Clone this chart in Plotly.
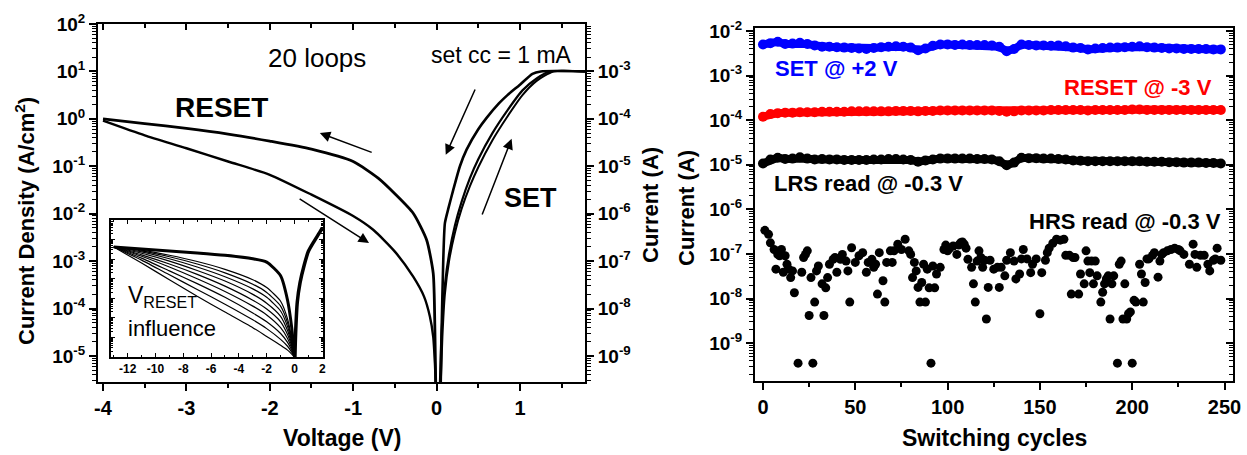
import numpy as np
import plotly.graph_objects as go

W, H = 1247, 455
FONT = "Liberation Sans, Arial, sans-serif"

# ---------------- Left panel: J-V loops (values are log10 of J in A/cm^2) ----------------
reset_lrs_V = [-4, -3.5, -3, -2.5, -2, -1.5, -1, -0.7, -0.5, -0.28, -0.12, -0.04, -0.02, -0.01]
reset_lrs_log10J = [0, -0.1, -0.2, -0.32, -0.47, -0.64, -0.9, -1.25, -1.58, -1.99, -2.55, -3.26, -4.45, -5.6]

reset_hrs_V = [-4, -3.5, -3, -2.5, -2, -1.5, -1, -0.76, -0.5, -0.28, -0.15, -0.08, -0.04, -0.02, -0.01]
reset_hrs_log10J = [-0.04, -0.35, -0.62, -0.9, -1.18, -1.6, -2.05, -2.34, -2.8, -3.33, -3.75, -4.17, -4.6, -5.15, -5.6]

set_hrs_V = [0.04, 0.06, 0.1, 0.15, 0.22, 0.3, 0.4, 0.5, 0.67, 0.85, 1.03, 1.2, 1.36, 1.78]
set_hrs_log10J = [-5.6, -4.5, -3.5, -2.85, -2.25, -1.75, -1.25, -0.85, -0.3, 0.18, 0.6, 0.85, 1.0, 1.0]

set_hrs2_V = [0.05, 0.07, 0.1, 0.15, 0.22, 0.3, 0.4, 0.5, 0.67, 0.85, 1.03, 1.2, 1.4, 1.78]
set_hrs2_log10J = [-5.6, -4.6, -3.7, -3.0, -2.4, -1.9, -1.42, -1.02, -0.45, 0.05, 0.5, 0.8, 1.0, 1.0]

set_lrs_V = [1.78, 1.25, 1.15, 1.0, 0.85, 0.75, 0.6, 0.5, 0.36, 0.28, 0.2, 0.14, 0.1, 0.08, 0.06, 0.05]
set_lrs_log10J = [1.0, 1.0, 0.95, 0.72, 0.5, 0.33, 0.02, -0.22, -0.65, -1.0, -1.5, -1.9, -2.2, -3.0, -4.5, -5.6]

# ---------------- Inset: V_RESET influence (log10 of current, arbitrary units) ----------------
inset_V = [-13, -11, -9, -7, -5, -3, -2, -1, -0.5, -0.2, 0]
inset_thick_log10 = [-0.38, -0.48, -0.58, -0.68, -0.80, -0.98, -1.15, -1.85, -3.1, -4.5, -6.0]
inset_thin_log10 = [
    [-0.38, -1.20, -2.05, -2.90, -3.70, -4.50, -4.95, -5.40, -5.65, -5.85, -6.0],
    [-0.38, -1.05, -1.80, -2.55, -3.30, -4.10, -4.55, -5.10, -5.45, -5.75, -6.0],
    [-0.38, -0.95, -1.60, -2.25, -2.95, -3.75, -4.20, -4.80, -5.25, -5.65, -6.0],
    [-0.38, -0.85, -1.40, -2.00, -2.65, -3.40, -3.85, -4.50, -5.05, -5.55, -6.0],
    [-0.38, -0.78, -1.25, -1.78, -2.38, -3.10, -3.55, -4.20, -4.85, -5.45, -6.0],
    [-0.38, -0.70, -1.10, -1.58, -2.12, -2.80, -3.25, -3.92, -4.65, -5.35, -6.0],
    [-0.38, -0.63, -0.98, -1.40, -1.90, -2.52, -2.95, -3.65, -4.45, -5.25, -6.0],
    [-0.38, -0.58, -0.88, -1.25, -1.70, -2.28, -2.70, -3.40, -4.25, -5.15, -6.0],
    [-0.38, -0.54, -0.80, -1.12, -1.52, -2.05, -2.45, -3.15, -4.05, -5.05, -6.0],
]
inset_set_V = [0.03, 0.08, 0.2, 0.4, 0.7, 1.0, 1.4, 1.8, 2.0]
inset_set_log10 = [-6.0, -4.8, -3.2, -2.2, -1.3, -0.6, -0.1, 0.35, 0.6]

# ---------------- Right panel: endurance (log10 of current in A) ----------------
band_cycles = list(range(0, 249, 4))
set_log10I = [-2.30, -2.27, -2.24, -2.29, -2.28, -2.26, -2.29, -2.32, -2.35, -2.35,
              -2.36, -2.37, -2.38, -2.39, -2.40, -2.38, -2.36, -2.35, -2.34, -2.35,
              -2.37, -2.43, -2.39, -2.33, -2.30, -2.30, -2.31, -2.30, -2.31, -2.31,
              -2.31, -2.32, -2.35, -2.45, -2.40, -2.30, -2.31, -2.32, -2.32, -2.33,
              -2.32, -2.34, -2.37, -2.38, -2.41, -2.39, -2.38, -2.37, -2.37, -2.36,
              -2.35, -2.34, -2.36, -2.37, -2.38, -2.39, -2.39, -2.40, -2.40, -2.40,
              -2.40, -2.41, -2.41]
reset_log10I = [-3.92, -3.86, -3.84, -3.83, -3.83, -3.82, -3.82, -3.82, -3.81, -3.81,
                -3.81, -3.81, -3.80, -3.80, -3.80, -3.80, -3.80, -3.80, -3.79, -3.79,
                -3.79, -3.80, -3.79, -3.79, -3.78, -3.78, -3.78, -3.78, -3.78, -3.78,
                -3.78, -3.78, -3.79, -3.81, -3.80, -3.78, -3.78, -3.78, -3.78, -3.77,
                -3.77, -3.77, -3.77, -3.77, -3.78, -3.77, -3.77, -3.77, -3.77, -3.77,
                -3.76, -3.76, -3.77, -3.77, -3.77, -3.77, -3.77, -3.77, -3.77, -3.77,
                -3.77, -3.77, -3.77]
lrs_log10I = [-4.97, -4.88, -4.84, -4.87, -4.86, -4.83, -4.86, -4.88, -4.87, -4.88,
              -4.88, -4.89, -4.89, -4.89, -4.89, -4.88, -4.88, -4.87, -4.87, -4.88,
              -4.89, -4.93, -4.90, -4.88, -4.86, -4.86, -4.86, -4.86, -4.86, -4.87,
              -4.87, -4.88, -4.92, -5.01, -4.95, -4.84, -4.85, -4.85, -4.86, -4.86,
              -4.87, -4.88, -4.90, -4.91, -4.92, -4.92, -4.92, -4.92, -4.92, -4.92,
              -4.92, -4.92, -4.93, -4.93, -4.93, -4.94, -4.94, -4.95, -4.95, -4.95,
              -4.96, -4.96, -4.97]

hrs_cycles = [1, 3, 4, 6, 7, 8, 9, 10, 11, 12, 13, 14, 15, 16, 17, 19, 21, 22, 23, 24,
              25, 26, 27, 28, 29, 30, 32, 33, 34, 35, 36, 38, 39, 40, 42, 43, 45, 46, 47, 48,
              50, 52, 54, 56, 57, 59, 60, 61, 62, 63, 65, 66, 67, 69, 70, 71, 73, 75, 77, 79,
              80, 81, 82, 83, 84, 85, 86, 87, 88, 89, 90, 91, 92, 93, 94,
              96, 98, 99, 100, 101, 103, 105, 106, 107, 108, 109, 110, 111, 113, 114, 115, 116, 117, 118, 119,
              120, 121, 122, 123, 125, 127, 128, 129, 131, 132, 134, 136, 137, 139, 140, 141, 143, 145, 146, 148,
              150, 151, 153, 154, 155, 157, 159, 161, 163, 164, 166, 167, 168, 169, 171, 172, 174, 175, 176, 177,
              178, 179, 180, 181, 183, 184, 185, 186, 187, 188, 189, 190, 192, 193, 194, 195, 196, 197, 198, 199,
              200, 201, 202, 204, 205, 206, 207, 208, 209, 211, 212, 214, 215, 216, 217, 219, 221, 223, 225, 226,
              228, 231, 233, 234, 235, 237, 239, 241, 242, 244, 245, 246, 248]
hrs_log10I = [-6.47, -6.56, -6.75, -6.90, -7.34, -7.01, -7.04, -6.90, -7.41, -7.04, -7.23, -7.34, -7.53, -7.38, -7.87, -9.45, -7.41, -7.08, -7.01, -6.93,
              -8.38, -7.53, -9.45, -8.08, -7.38, -7.27, -7.67, -8.38, -7.76, -7.53, -7.23, -7.12, -7.08, -7.41, -7.12, -7.01, -7.16, -7.38, -8.08, -6.86,
              -7.19, -7.04, -6.97, -7.41, -7.19, -7.12, -7.30, -7.23, -7.90, -6.97, -7.60, -8.08, -7.19, -6.93, -7.19, -6.93, -6.78, -6.90, -6.67, -6.93,
              -7.01, -7.53, -7.19, -7.38, -7.75, -8.08, -7.64, -7.23, -8.08, -7.34, -7.76, -9.45, -7.27, -7.76, -7.45,
              -7.30, -6.90, -6.80, -6.93, -6.88, -6.82, -7.01, -6.80, -6.75, -6.73, -6.78, -6.87, -7.12, -7.30, -7.67, -8.08, -7.16, -6.93, -7.08, -7.30,
              -7.14, -8.46, -7.75, -7.14, -7.34, -7.30, -7.75, -7.30, -7.49, -7.14, -6.97, -7.16, -7.56, -7.45, -7.11, -6.90, -7.11, -7.42, -7.23, -7.11,
              -8.34, -7.42, -7.14, -6.97, -6.87, -6.76, -6.67, -6.69, -6.67, -7.03, -7.03, -7.90, -7.08, -7.08, -7.90, -7.45, -7.67, -6.93, -7.16, -7.42,
              -7.16, -7.67, -7.16, -7.49, -8.08, -7.86, -7.67, -7.56, -7.49, -8.46, -7.67, -7.49, -9.45, -7.23, -7.16, -8.46, -7.67, -8.46, -8.34, -8.30,
              -9.45, -8.04, -8.08, -7.23, -7.45, -8.08, -7.64, -7.11, -7.11, -7.03, -6.97, -7.52, -7.16, -7.01, -6.97, -6.93, -6.90, -6.87, -6.90, -6.93,
              -7.01, -7.23, -6.78, -7.01, -7.30, -7.03, -7.03, -7.23, -7.38, -7.14, -7.11, -6.87, -7.14]

# Tick labels
left_y_exp = [-5, -4, -3, -2, -1, 0, 1, 2]
left_y2_exp = [-9, -8, -7, -6, -5, -4, -3]
right_y_exp = [-9, -8, -7, -6, -5, -4, -3, -2]
left_x_ticks = [-4, -3, -2, -1, 0, 1]
inset_x_ticks = [-12, -10, -8, -6, -4, -2, 0, 2]
right_x_ticks = [0, 50, 100, 150, 200, 250]


def pw(a):
    return np.power(10.0, np.asarray(a, dtype=float))


def px(x):
    return x / W


def py(y):
    return 1 - y / H


def sup_labels(exps):
    return ["10<sup>%d</sup>" % e for e in exps]


def minor_vals(e0, e1):
    return [m * 10.0 ** e for e in range(e0, e1) for m in range(2, 10)]


fig = go.Figure()

# Left main curves
for V, L, w in [(reset_lrs_V, reset_lrs_log10J, 2.8), (reset_hrs_V, reset_hrs_log10J, 2.4),
                (set_hrs_V, set_hrs_log10J, 2.2), (set_hrs2_V, set_hrs2_log10J, 2.0),
                (set_lrs_V, set_lrs_log10J, 2.6)]:
    fig.add_trace(go.Scatter(x=V, y=pw(L), mode="lines", line=dict(color="black", width=w, shape="spline", smoothing=0.6),
                             xaxis="x", yaxis="y", showlegend=False, hoverinfo="skip"))

# dummy traces for overlay axes
fig.add_trace(go.Scatter(x=[None], y=[None], xaxis="x2", yaxis="y", showlegend=False))
fig.add_trace(go.Scatter(x=[None], y=[None], xaxis="x", yaxis="y2", showlegend=False))

# Inset
for L in inset_thin_log10:
    fig.add_trace(go.Scatter(x=inset_V, y=pw(L), mode="lines", line=dict(color="black", width=1.2, shape="spline", smoothing=0.6),
                             xaxis="x3", yaxis="y3", showlegend=False, hoverinfo="skip"))
fig.add_trace(go.Scatter(x=inset_V, y=pw(inset_thick_log10), mode="lines", line=dict(color="black", width=3, shape="spline", smoothing=0.6),
                         xaxis="x3", yaxis="y3", showlegend=False, hoverinfo="skip"))
fig.add_trace(go.Scatter(x=inset_set_V, y=pw(inset_set_log10), mode="lines", line=dict(color="black", width=3.5, shape="spline", smoothing=0.6),
                         xaxis="x3", yaxis="y3", showlegend=False, hoverinfo="skip"))

# Right panel
for L, c in [(set_log10I, "#0000ff"), (reset_log10I, "#ff0000"), (lrs_log10I, "black")]:
    fig.add_trace(go.Scatter(x=band_cycles, y=pw(L), mode="lines+markers", line=dict(color=c, width=8),
                             marker=dict(color=c, size=10), xaxis="x4", yaxis="y4", showlegend=False, hoverinfo="skip"))
fig.add_trace(go.Scatter(x=hrs_cycles, y=pw(hrs_log10I), mode="markers", marker=dict(color="black", size=9),
                         xaxis="x4", yaxis="y4", showlegend=False, hoverinfo="skip"))
fig.add_trace(go.Scatter(x=[None], y=[None], xaxis="x4", yaxis="y5", showlegend=False))

tickfont = dict(family=FONT, size=19, color="black", weight="bold")
xtickfont = dict(family=FONT, size=20, color="black", weight="bold")
ax_common = dict(showgrid=False, zeroline=False, showline=True, linecolor="black", linewidth=2,
                 tickcolor="black", tickwidth=2)

left_xd = [px(98), px(585)]
left_yd = [py(382), py(24)]
inset_xd = [px(111), px(323)]
inset_yd = [py(357), py(220)]
right_xd = [px(755), px(1233)]
right_yd = [py(381), py(28)]

fig.update_layout(
    width=W, height=H, margin=dict(l=0, r=0, t=0, b=0, autoexpand=False),
    paper_bgcolor="white", plot_bgcolor="rgba(0,0,0,0)",
    font=dict(family=FONT, color="black"),
    xaxis=dict(domain=left_xd, anchor="y", range=[-4.06, 1.78], tickmode="array", tickvals=left_x_ticks,
               ticktext=[str(v) for v in left_x_ticks], ticks="outside", ticklen=7,
               minor=dict(tickvals=[-3.5, -2.5, -1.5, -0.5, 0.5, 1.5], ticks="outside", ticklen=4, tickwidth=1.5, tickcolor="black"),
               tickfont=xtickfont, **ax_common),
    xaxis2=dict(domain=left_xd, anchor="y", overlaying="x", side="top", range=[-4.06, 1.78], tickmode="array",
                tickvals=left_x_ticks, ticks="inside", ticklen=6, showticklabels=False,
                minor=dict(tickvals=[-3.5, -2.5, -1.5, -0.5, 0.5, 1.5], ticks="inside", ticklen=4, tickwidth=1.5, tickcolor="black"),
                **ax_common),
    yaxis=dict(domain=left_yd, anchor="x", type="log", range=[-5.55, 2], tickmode="array",
               tickvals=[10.0 ** e for e in left_y_exp], ticktext=sup_labels(left_y_exp), ticks="outside", ticklen=7,
               minor=dict(tickvals=minor_vals(-6, 2), ticks="outside", ticklen=4, tickwidth=1.2, tickcolor="black"),
               tickfont=tickfont, **ax_common),
    yaxis2=dict(domain=left_yd, anchor="x", overlaying="y", side="right", type="log", range=[-9.55, -2], tickmode="array",
                tickvals=[10.0 ** e for e in left_y2_exp], ticktext=sup_labels(left_y2_exp), ticks="outside", ticklen=7,
                minor=dict(tickvals=minor_vals(-10, -2), ticks="outside", ticklen=4, tickwidth=1.2, tickcolor="black"),
                tickfont=tickfont, **ax_common),
    xaxis3=dict(domain=inset_xd, anchor="y3", range=[-13.2, 2.05], tickmode="array", tickvals=inset_x_ticks,
                ticktext=[str(v) for v in inset_x_ticks], ticks="inside", ticklen=4, mirror="ticks",
                minor=dict(tickvals=[-13, -11, -9, -7, -5, -3, -1, 1], ticks="inside", ticklen=2, tickwidth=1, tickcolor="black"),
                tickfont=dict(family=FONT, size=12, color="black", weight="bold"),
                showgrid=False, zeroline=False, showline=True, linecolor="black", linewidth=1.5, tickcolor="black", tickwidth=1.2),
    yaxis3=dict(domain=inset_yd, anchor="x3", type="log", range=[-6.0, 1.0], tickmode="array",
                tickvals=[10.0 ** e for e in range(-6, 2)], showticklabels=False, ticks="inside", ticklen=4, mirror="ticks",
                minor=dict(tickvals=minor_vals(-6, 1), ticks="inside", ticklen=2, tickwidth=1, tickcolor="black"),
                showgrid=False, zeroline=False, showline=True, linecolor="black", linewidth=1.5, tickcolor="black", tickwidth=1.2),
    xaxis4=dict(domain=right_xd, anchor="y4", range=[-4.33, 254.6], tickmode="array", tickvals=right_x_ticks,
                ticktext=[str(v) for v in right_x_ticks], ticks="outside", ticklen=7, mirror=True,
                minor=dict(tickvals=[25, 75, 125, 175, 225], ticks="outside", ticklen=4, tickwidth=1.5, tickcolor="black"),
                tickfont=xtickfont, **ax_common),
    yaxis4=dict(domain=right_yd, anchor="x4", type="log", range=[-9.85, -1.93], tickmode="array",
                tickvals=[10.0 ** e for e in right_y_exp], ticktext=sup_labels(right_y_exp), ticks="outside", ticklen=7,
                minor=dict(tickvals=minor_vals(-10, -2), ticks="outside", ticklen=4, tickwidth=1.2, tickcolor="black"),
                tickfont=tickfont, **ax_common),
    yaxis5=dict(domain=right_yd, anchor="x4", overlaying="y4", side="right", type="log", range=[-9.85, -1.93], tickmode="array",
                tickvals=[10.0 ** e for e in right_y_exp], ticks="inside", ticklen=7, showticklabels=False,
                minor=dict(tickvals=minor_vals(-10, -2), ticks="inside", ticklen=4, tickwidth=1.2, tickcolor="black"),
                **ax_common),
)

anns = []


def txt(t, x, y, size, bold=False, color="black", angle=0, xanchor="center"):
    anns.append(dict(text=t, x=px(x), y=py(y), xref="paper", yref="paper", showarrow=False, textangle=angle,
                     xanchor=xanchor, yanchor="middle",
                     font=dict(family=FONT, size=size, color=color, weight="bold" if bold else "normal")))


txt("20 loops", 317, 58, 26)
txt("RESET", 221, 107, 28, bold=True)
txt("set cc = 1 mA", 501, 55, 23)
txt("SET", 530, 198, 27, bold=True)
txt("V<sub>RESET</sub>", 126, 296, 23, xanchor="left")
txt("influence", 126, 328, 22, xanchor="left")
txt("Current Density (A/cm<sup>2</sup>)", 25, 221, 22, bold=True, angle=-90)
txt("Current (A)", 651, 205, 22, bold=True, angle=-90)
txt("Voltage (V)", 342, 438, 23, bold=True)
txt("SET @ +2 V", 836, 68, 22, bold=True, color="#0000ff")
txt("RESET @ -3 V", 1138, 88, 22, bold=True, color="#ff0000")
txt("LRS read @ -0.3 V", 868, 183, 22, bold=True)
txt("HRS read @ -0.3 V", 1125, 221, 22, bold=True)
txt("Current (A)", 687, 208, 22, bold=True, angle=-90)
txt("Switching cycles", 995, 438, 23, bold=True)

# Arrows (head, tail) in V / log10 J data coordinates
arrows = [((-1.40, -0.30), (-0.76, -0.72)),
          ((-0.81, -2.62), (-1.66, -1.67)),
          ((0.11, -0.76), (0.47, 0.65)),
          ((0.90, -0.42), (0.54, -2.05))]
for (hx, hy), (tx, ty) in arrows:
    anns.append(dict(x=hx, y=hy, ax=tx, ay=ty, xref="x", yref="y", axref="x", ayref="y", text="",
                     showarrow=True, arrowhead=2, arrowsize=1.4, arrowwidth=1.5, arrowcolor="black"))

fig.update_layout(annotations=anns)
fig.write_html("out.html")
